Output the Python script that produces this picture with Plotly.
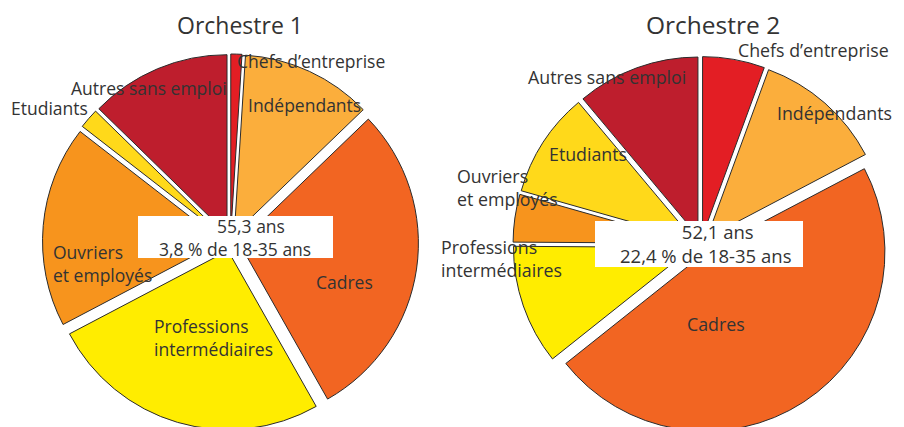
import plotly.graph_objects as go

# ---- data ----
categories = ["Chefs d’entreprise", "Indépendants", "Cadres", "Professions intermédiaires",
              "Ouvriers et employés", "Etudiants", "Autres sans emploi"]
orch1_values = [1.0, 11.8, 29.0, 25.5, 18.2, 1.8, 12.7]
orch2_values = [5.6, 11.7, 47.0, 10.8, 4.3, 9.5, 11.1]
titles = ["Orchestre 1", "Orchestre 2"]
center_line1 = ["55,3 ans", "52,1 ans"]
center_line2 = ["3,8 % de 18-35 ans", "22,4 % de 18-35 ans"]
slice_labels = ["Chefs d’entreprise", "Indépendants", "Cadres", "Professions<br>intermédiaires",
                "Ouvriers<br>et employés", "Etudiants", "Autres sans emploi"]

# ---- styling ----
colors = ["#E31E24", "#FBAE3C", "#F26522", "#FFED00", "#F7941D", "#FFD91A", "#BE1E2D"]
W, H, MT = 904, 427, 40
PH = H - MT
OFF = 8  # page body margin
FONT = "Open Sans"
TXT = "#333333"


def px(x, y):
    """viewport pixel -> paper coords"""
    return (x - OFF) / W, (H + OFF - y) / PH


def dom(cx, cy, R):
    x0, y1 = px(cx - R, cy - R)
    x1, y0 = px(cx + R, cy + R)
    return dict(x=[x0, x1], y=[max(0, y0), min(1, y1)])


fig = go.Figure()
pie_boxes = [dom(230.5, 242, 188), dom(701, 244.5, 188)]
for vals, d in zip([orch1_values, orch2_values], pie_boxes):
    fig.add_trace(go.Pie(
        labels=categories, values=vals, sort=False, direction="clockwise", rotation=0,
        marker=dict(colors=colors, line=dict(color="#2b2b2b", width=1)),
        pull=0.05, textinfo="none", hoverinfo="label+percent",
        domain=d,
    ))

annotations = []
# label positions: (x, y, xanchor) in viewport pixels
label_pos = [
    [(236, 61, "left"), (247, 105, "left"), (344, 282, "center"), (153, 338, "left"),
     (52, 263, "left"), (10, 108, "left"), (70, 88, "left")],
    [(737, 50, "left"), (893, 113, "right"), (716, 324, "center"), (440, 259, "left"),
     (456, 187, "left"), (548, 154, "left"), (527, 77, "left")],
]
sizes = [17.5, 17.8]
for k in range(2):
    for lab, (x, y, xa) in zip(slice_labels, label_pos[k]):
        xx, yy = px(x, y)
        annotations.append(dict(x=xx, y=yy, xref="paper", yref="paper", text=lab,
                                showarrow=False, xanchor=xa, yanchor="middle", align="left",
                                borderpad=0,
                                font=dict(family=FONT, size=sizes[k], color=TXT)))

# titles
for t, x, s in zip(titles, [240, 713], [23, 24.5]):
    xx, yy = px(x, 24.5)
    annotations.append(dict(x=xx, y=yy, xref="paper", yref="paper", text=t, showarrow=False,
                            xanchor="center", yanchor="middle", borderpad=0,
                            font=dict(family=FONT, size=s, color=TXT)))

# center boxes
boxes = [(138, 216, 333, 258), (595, 221, 803, 267)]
text_center = [(235, 237), (705, 243)]
lead_spaces = [7, 5]
csizes = [17.5, 18.5]
shapes = []
for k, (x0, y0, x1, y1) in enumerate(boxes):
    a0, b0 = px(x0, y1)
    a1, b1 = px(x1, y0)
    shapes.append(dict(type="rect", xref="paper", yref="paper", x0=a0, y0=b0, x1=a1, y1=b1,
                       fillcolor="white", line=dict(width=0)))
    xx, yy = px(*text_center[k])
    txt = "\u00a0" * lead_spaces[k] + center_line1[k] + "<br>" + center_line2[k]
    annotations.append(dict(x=xx, y=yy, xref="paper", yref="paper", text=txt,
                            showarrow=False, xanchor="center", yanchor="middle", align="center",
                            borderpad=0,
                            font=dict(family=FONT, size=csizes[k], color=TXT)))

fig.update_layout(
    width=W, height=H, margin=dict(l=0, r=0, t=MT, b=0),
    paper_bgcolor="white", plot_bgcolor="white", showlegend=False,
    annotations=annotations, shapes=shapes,
)
fig.write_html("out.html")
